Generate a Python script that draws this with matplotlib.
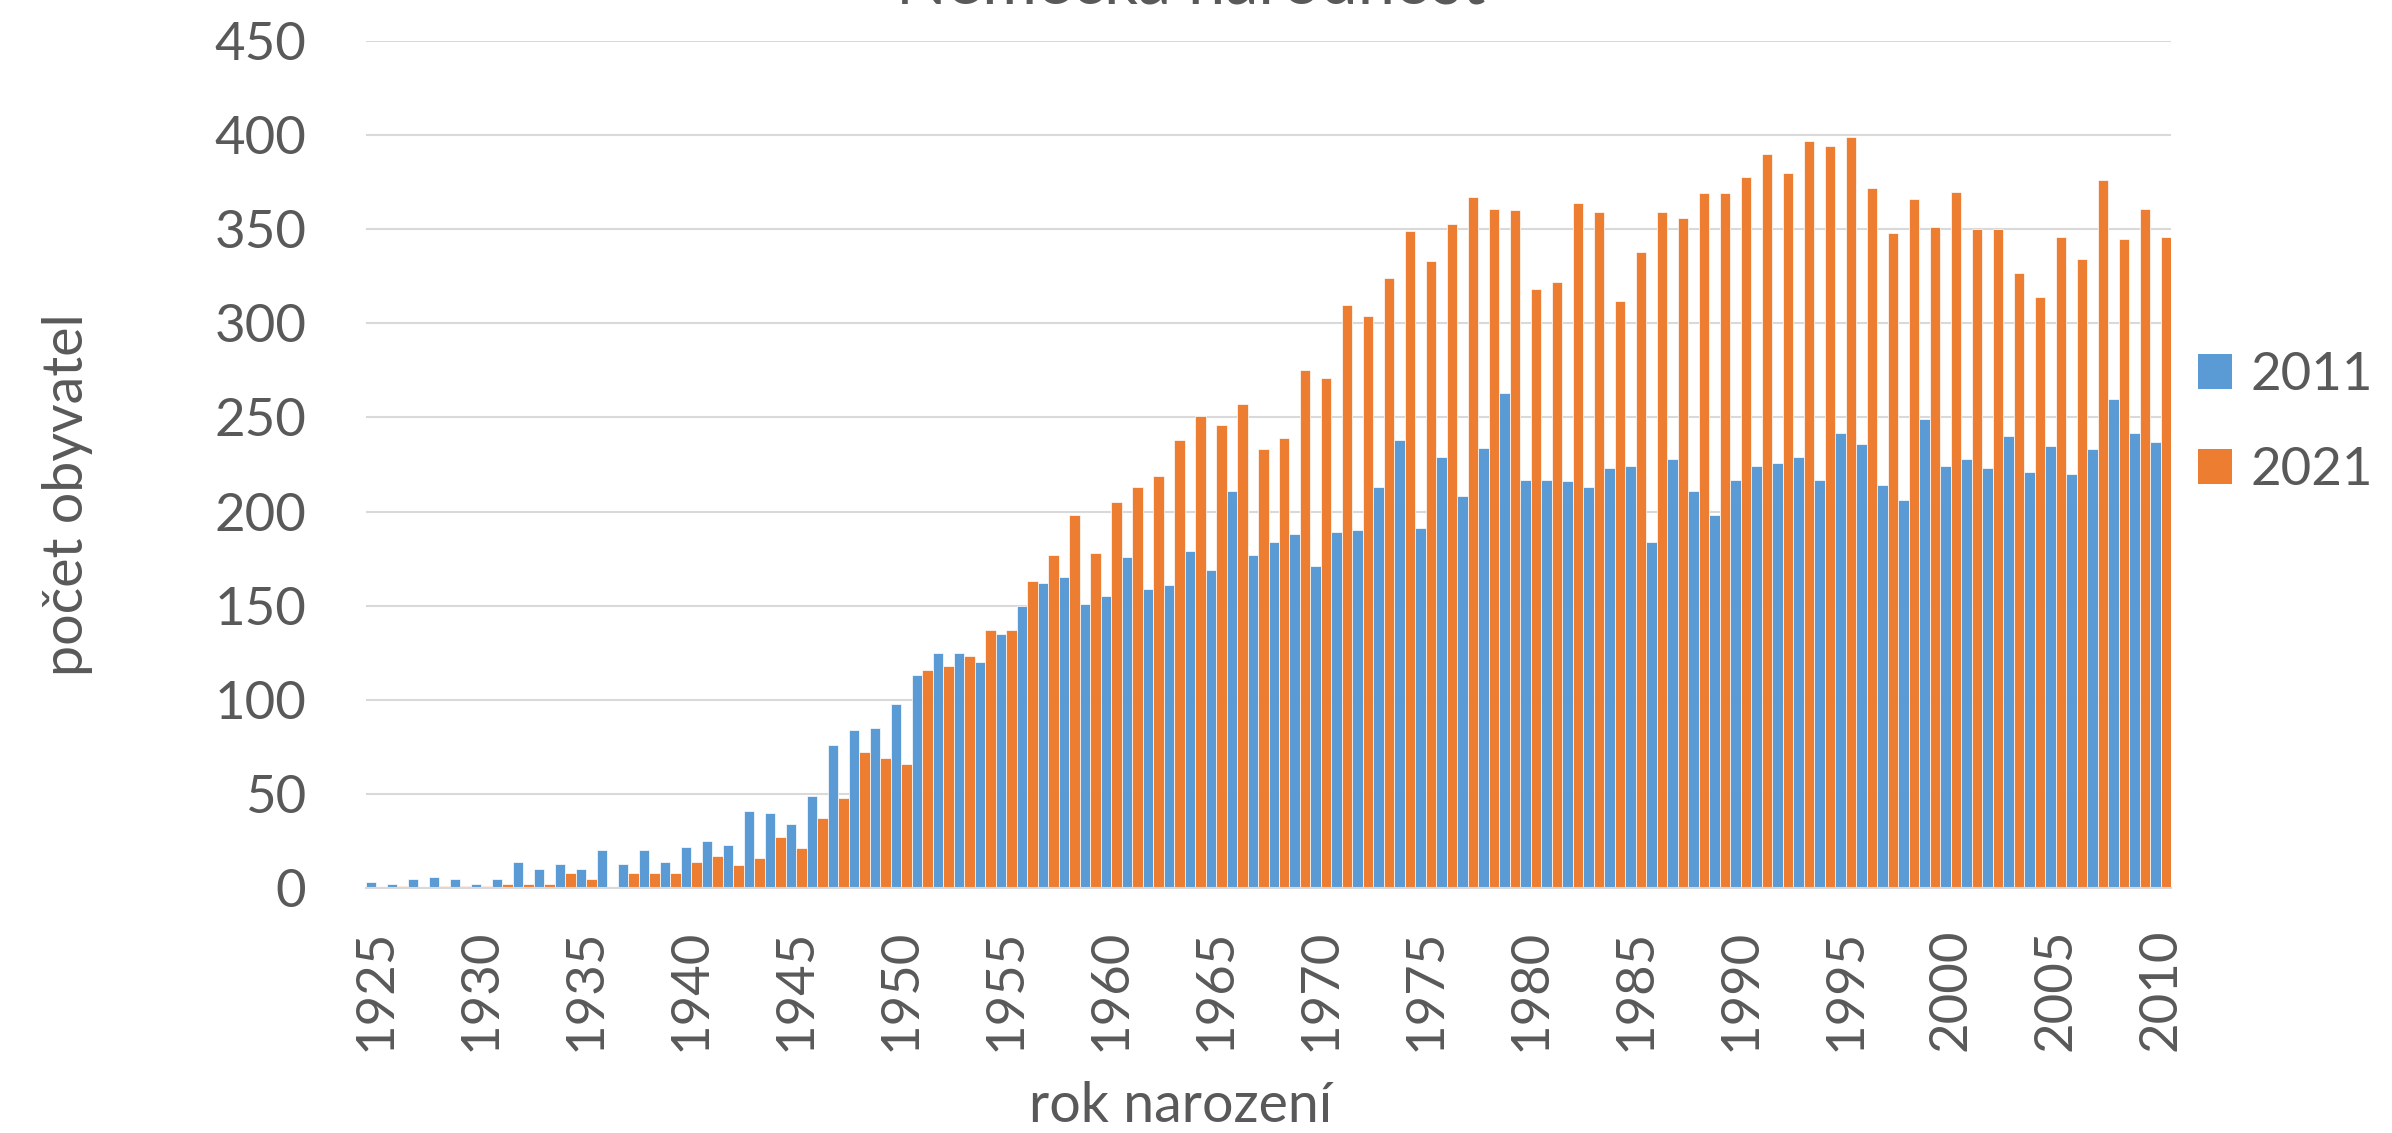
import numpy as np
import matplotlib
matplotlib.use("Agg")
import matplotlib.pyplot as plt
from matplotlib.patches import Patch

# Data (people of German nationality by year of birth)
years = list(range(1925, 2011))

census_2011 = [
    3, 2, 5, 6, 5, 2, 5, 14, 10, 13,
    10, 20, 13, 20, 14, 22, 25, 23, 41, 40,
    34, 49, 76, 84, 85, 98, 113, 125, 125, 120,
    135, 150, 162, 165, 151, 155, 176, 159, 161, 179,
    169, 211, 177, 184, 188, 171, 189, 190, 213, 238,
    191, 229, 208, 234, 263, 217, 217, 216, 213, 223,
    224, 184, 228, 211, 198, 217, 224, 226, 229, 217,
    242, 236, 214, 206, 249, 224, 228, 223, 240, 221,
    235, 220, 233, 260, 242, 237,
]

census_2021 = [
    0, 1, 0, 1, 1, 1, 2, 2, 2, 8,
    5, 0, 8, 8, 8, 14, 17, 12, 16, 27,
    21, 37, 48, 72, 69, 66, 116, 118, 123, 137,
    137, 163, 177, 198, 178, 205, 213, 219, 238, 251,
    246, 257, 233, 239, 275, 271, 310, 304, 324, 349,
    333, 353, 367, 361, 360, 318, 322, 364, 359, 312,
    338, 359, 356, 369, 369, 378, 390, 380, 397, 394,
    399, 372, 348, 366, 351, 370, 350, 350, 327, 314,
    346, 334, 376, 345, 361, 346,
]

series_names = ["2011", "2021"]
y_ticks = list(range(0, 451, 50))

title = "Německá národnost"
x_title = "rok narození"
y_title = "počet obyvatel"

# Excel-like colours
BLUE = "#5B9BD5"
ORANGE = "#ED7D31"
GRID = "#D9D9D9"
TEXT = "#595959"

plt.rcParams['font.family'] = ['Lato', 'DejaVu Sans']

W, H = 2392, 1133
fig = plt.figure(figsize=(W / 100, H / 100), dpi=100)

# plot area in pixel coords of the original picture
left, right, top, bottom = 366, 2171, 41, 888
ax = fig.add_axes([left / W, 1 - bottom / H, (right - left) / W, (bottom - top) / H])

x = np.arange(len(years))
bw = 0.5
ax.bar(x - bw / 2, census_2011, width=bw, color=BLUE, edgecolor="white", linewidth=0.5)
ax.bar(x + bw / 2, census_2021, width=bw, color=ORANGE, edgecolor="white", linewidth=0.5)

ax.set_xlim(-0.5, len(years) - 0.5)
ax.set_ylim(0, 450)
ax.set_yticks(y_ticks)
ax.set_xticks(x[::5])
ax.set_xticklabels([str(y) for y in years[::5]], rotation=90)

ax.tick_params(axis="y", length=0, pad=43, labelsize=38, labelcolor=TEXT)
ax.tick_params(axis="x", length=0, pad=29, labelsize=38, labelcolor=TEXT)

ax.set_axisbelow(True)
ax.grid(axis="y", color=GRID, linewidth=1.5)
for side in ["left", "right", "top"]:
    ax.spines[side].set_visible(False)
ax.spines["bottom"].set_color(GRID)
ax.spines["bottom"].set_linewidth(1.5)

# axis titles and the chart title (its top is cut off by the picture edge, as in the source)
fig.text(1181 / W, 1 - 1106 / H, x_title, ha="center", va="center", fontsize=40, color=TEXT)
fig.text(68 / W, 1 - 495 / H, y_title, ha="center", va="center", rotation=90,
         fontsize=40, color=TEXT)
fig.text(1191 / W, 1 - 3 / H, title, ha="center", va="baseline", fontsize=48, color=TEXT)

# legend on the right
handles = [Patch(facecolor=BLUE), Patch(facecolor=ORANGE)]
fig.legend(handles, series_names, loc="center left", bbox_to_anchor=(2198 / W, 1 - 423 / H),
           frameon=False, fontsize=38, labelcolor=TEXT, handlelength=0.64, handleheight=0.64,
           handletextpad=0.36, labelspacing=0.9, borderpad=0, borderaxespad=0)

fig.savefig("out.png", dpi=100)
